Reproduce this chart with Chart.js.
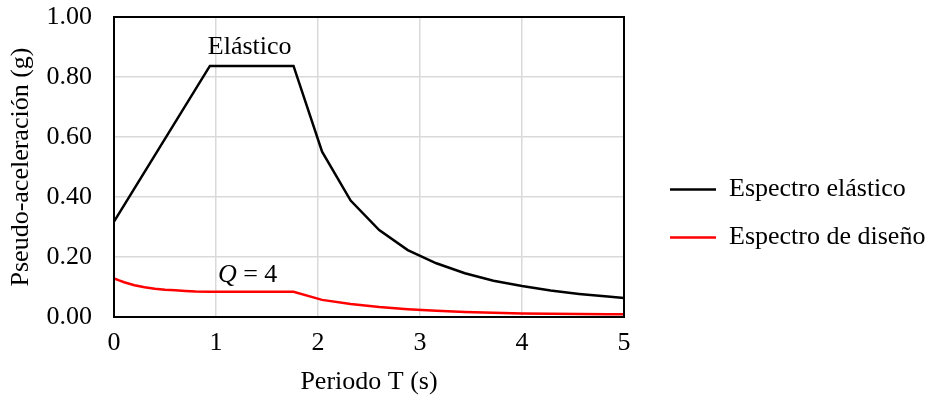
<!DOCTYPE html>
<html>
<head>
<meta charset="utf-8">
<script src="https://cdn.jsdelivr.net/npm/chart.js@4"></script>
<style>
  html, body { margin: 0; padding: 0; background: #fff; }
  #wrap { width: 932px; height: 400px; }
</style>
</head>
<body>
<div id="wrap"><canvas id="espectroChart" width="932" height="400"></canvas></div>
<script>
// Periodos (s) y pseudo-aceleraciones (g)
const periodoElastico = [0, 0.94, 1.76, 2.04, 2.32, 2.60, 2.88, 3.16, 3.44, 3.72, 4.00, 4.28, 4.56, 4.84, 5.00];
const saElastico = [0.318, 0.837, 0.837, 0.551, 0.388, 0.290, 0.223, 0.179, 0.146, 0.121, 0.103, 0.088, 0.077, 0.068, 0.063];

const periodoDiseno = [0, 0.05, 0.1, 0.2, 0.3, 0.4, 0.5, 0.6, 0.7, 0.8, 0.94, 1.76, 2.04, 2.32, 2.60, 2.88, 3.16, 3.44, 3.72, 4.00, 4.28, 4.56, 4.84, 5.00];
const saDiseno = [0.129, 0.122, 0.116, 0.106, 0.099, 0.094, 0.091, 0.089, 0.087, 0.085, 0.084, 0.084, 0.057, 0.043, 0.033, 0.026, 0.021, 0.017, 0.014, 0.012, 0.011, 0.010, 0.0095, 0.009];

const series = ['Espectro elástico', 'Espectro de diseño'];
const ticksX = [0, 1, 2, 3, 4, 5];
const ticksY = [0, 0.2, 0.4, 0.6, 0.8, 1.0];

// Etiquetas dentro del gráfico (posición en unidades de datos)
const etiquetas = [
    { texto: 'Elástico', x: 1.33, y: 0.90 },
    { texto: 'Q = 4', x: 1.31, y: 0.14 }
];

const fuente = '"Liberation Serif", "Times New Roman", serif';
Chart.defaults.font.family = fuente;
Chart.defaults.font.size = 26;
Chart.defaults.color = '#000';

function puntos(xs, ys) {
    return xs.map((x, i) => ({ x: x, y: ys[i] }));
}

// Marco negro alrededor del área de trazado + etiquetas
const marcoPlugin = {
    id: 'marco',
    afterDatasetsDraw(chart) {
        const { ctx, chartArea: a, scales } = chart;
        ctx.save();
        ctx.strokeStyle = '#000';
        ctx.lineWidth = 2;
        ctx.strokeRect(a.left, a.top, a.right - a.left, a.bottom - a.top);

        ctx.fillStyle = '#000';
        ctx.textBaseline = 'middle';
        etiquetas.forEach(e => {
            const px = scales.x.getPixelForValue(e.x);
            const py = scales.y.getPixelForValue(e.y);
            if (e.texto.startsWith('Q')) {
                // la Q va en cursiva
                const q = e.texto.charAt(0);
                const resto = e.texto.slice(1);
                ctx.font = 'italic 26px ' + fuente;
                const wq = ctx.measureText(q).width;
                ctx.font = '26px ' + fuente;
                const wr = ctx.measureText(resto).width;
                const x0 = px - (wq + wr) / 2;
                ctx.textAlign = 'left';
                ctx.font = 'italic 26px ' + fuente;
                ctx.fillText(q, x0, py);
                ctx.font = '26px ' + fuente;
                ctx.fillText(resto, x0 + wq, py);
            } else {
                ctx.textAlign = 'center';
                ctx.font = '26px ' + fuente;
                ctx.fillText(e.texto, px, py);
            }
        });
        ctx.restore();
    }
};

const ctx = document.getElementById('espectroChart').getContext('2d');
new Chart(ctx, {
    type: 'scatter',
    data: {
        datasets: [{
            label: series[0],
            data: puntos(periodoElastico, saElastico),
            showLine: true,
            borderColor: '#000000',
            backgroundColor: '#000000',
            borderWidth: 2.5,
            pointRadius: 0,
            tension: 0
        }, {
            label: series[1],
            data: puntos(periodoDiseno, saDiseno),
            showLine: true,
            borderColor: '#ff0000',
            backgroundColor: '#ff0000',
            borderWidth: 2.5,
            pointRadius: 0,
            tension: 0
        }]
    },
    options: {
        responsive: false,
        animation: false,
        layout: {
            padding: { left: 6, top: 17, right: 0, bottom: 2 }
        },
        plugins: {
            legend: {
                position: 'right',
                maxWidth: 284,
                // título vacío: solo baja un poco las entradas
                title: { display: true, text: '', font: { size: 10 }, padding: 0 },
                labels: {
                    usePointStyle: true,
                    pointStyle: 'line',
                    pointStyleWidth: 46,
                    boxHeight: 26,
                    padding: 22,
                    font: { size: 26 }
                }
            },
            tooltip: { enabled: false }
        },
        scales: {
            x: {
                type: 'linear',
                min: 0,
                max: 5,
                afterBuildTicks: s => { s.ticks = ticksX.map(v => ({ value: v })); },
                afterFit: s => { s.height = 81; s.paddingLeft = 0; s.paddingRight = 0; },
                ticks: { padding: 11, callback: v => v },
                grid: { color: '#d9d9d9', lineWidth: 1.5, drawTicks: false },
                border: { display: false },
                title: { display: true, text: 'Periodo T (s)', padding: { top: 0, bottom: 0 } }
            },
            y: {
                type: 'linear',
                min: 0,
                max: 1,
                afterBuildTicks: s => { s.ticks = ticksY.map(v => ({ value: v })); },
                afterFit: s => { s.width = 108; s.paddingTop = 0; s.paddingBottom = 0; },
                ticks: { padding: 22, callback: v => v.toFixed(2) },
                grid: { color: '#d9d9d9', lineWidth: 1.5, drawTicks: false },
                border: { display: false },
                title: { display: true, text: 'Pseudo-aceleración (g)', padding: { top: 0, bottom: 0 } }
            },
            // eje vacío a la derecha: solo separa la leyenda del gráfico
            y2: {
                type: 'linear',
                position: 'right',
                min: 0,
                max: 1,
                afterFit: s => { s.width = 24; s.paddingTop = 0; s.paddingBottom = 0; },
                ticks: { display: false },
                grid: { display: false, drawTicks: false },
                border: { display: false }
            }
        }
    },
    plugins: [marcoPlugin]
});
</script>
</body>
</html>
